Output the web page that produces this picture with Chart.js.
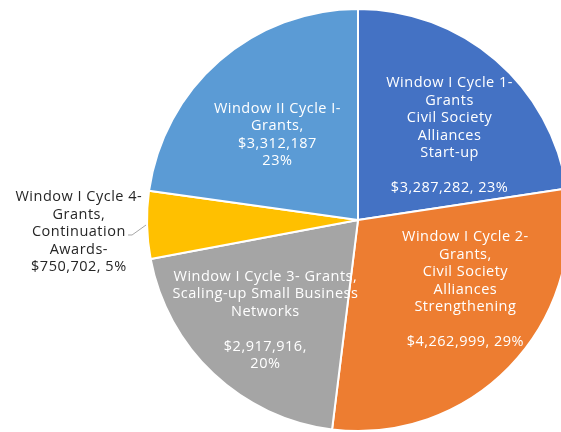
<!DOCTYPE html>
<html>
<head>
<meta charset="utf-8">
<script src="https://cdn.jsdelivr.net/npm/chart.js@4/dist/chart.umd.min.js"></script>
<style>
  html, body { margin: 0; padding: 0; background: #ffffff; overflow: hidden; width: 561px; height: 432px; }
  #wrap { position: absolute; left: 0; top: 0; }
</style>
</head>
<body>
<div id="wrap"><canvas id="pie" width="580" height="440"></canvas></div>
<script>
// Grant categories, one line per text row of each slice label
const categories = [
  ['Window I Cycle 1-', 'Grants', 'Civil Society', 'Alliances', 'Start-up'],
  ['Window I Cycle 2-', 'Grants,', 'Civil Society', 'Alliances', 'Strengthening'],
  ['Window I Cycle 3- Grants,', 'Scaling-up Small Business', 'Networks'],
  ['Window I Cycle 4-', 'Grants,', 'Continuation', 'Awards-'],
  ['Window II Cycle I-', 'Grants,']
];

// Awarded amounts in US dollars
const amounts = [3287282, 4262999, 2917916, 750702, 3312187];

// Slice colours
const sliceColors = ['#4472C4', '#ED7D31', '#A5A5A5', '#FFC000', '#5B9BD5'];

// How the amount / share rows are arranged under each name
const valueLayout = ['gapInline', 'gapInline', 'gapSplit', 'inline', 'split'];

// Label centre relative to the pie centre, in units of the radius
const labelAnchors = [
  [0.434, -0.401],
  [0.509, 0.330],
  [-0.439, 0.476],
  [-1.323, 0.057],
  [-0.382, -0.403]
];
const outsideLabel = [false, false, false, true, false];

const total = amounts.reduce((a, b) => a + b, 0);
const money = v => '$' + v.toLocaleString('en-US');
const pct = v => Math.round(v / total * 100) + '%';

function labelLines(i) {
  const v = amounts[i];
  const lines = categories[i].slice();
  switch (valueLayout[i]) {
    case 'gapInline': lines.push('', money(v) + ', ' + pct(v)); break;
    case 'gapSplit': lines.push('', money(v) + ',', pct(v)); break;
    case 'inline': lines.push(money(v) + ', ' + pct(v)); break;
    case 'split': lines.push(money(v), pct(v)); break;
  }
  return lines;
}

const FONT_SIZE = 14.5;
const LINE_H = 17.5;
const FONT_FAMILY = '"Open Sans", "Noto Sans", sans-serif';

const sliceLabels = {
  id: 'sliceLabels',
  afterDatasetsDraw(chart) {
    const ctx = chart.ctx;
    const meta = chart.getDatasetMeta(0);
    ctx.save();
    ctx.font = FONT_SIZE + 'px ' + FONT_FAMILY;
    if ('letterSpacing' in ctx) ctx.letterSpacing = '0.5px';
    ctx.textAlign = 'center';
    ctx.textBaseline = 'middle';
    meta.data.forEach((arc, i) => {
      const r = arc.outerRadius;
      const cx = arc.x, cy = arc.y;
      const lx = cx + labelAnchors[i][0] * r;
      const ly = cy + labelAnchors[i][1] * r;

      if (outsideLabel[i]) {
        // leader line from the rim of the slice to the label
        const mid = (arc.startAngle + arc.endAngle) / 2;
        const ex = cx + Math.cos(mid) * r;
        const ey = cy + Math.sin(mid) * r;
        ctx.strokeStyle = '#A6A6A6';
        ctx.lineWidth = 1;
        ctx.beginPath();
        ctx.moveTo(ex - 1, ey);
        ctx.lineTo(ex - 15, ey + 10);
        ctx.lineTo(ex - 19, ey + 10);
        ctx.stroke();
      }

      const lines = labelLines(i);
      ctx.fillStyle = outsideLabel[i] ? '#262626' : '#ffffff';
      const top = ly - (lines.length - 1) * LINE_H / 2;
      lines.forEach((t, k) => {
        if (t) ctx.fillText(t, lx, top + k * LINE_H);
      });
    });
    ctx.restore();
  }
};

new Chart(document.getElementById('pie'), {
  type: 'pie',
  data: {
    labels: categories.map(c => c.join(' ')),
    datasets: [{
      data: amounts,
      backgroundColor: sliceColors,
      borderColor: '#ffffff',
      borderWidth: 2
    }]
  },
  options: {
    responsive: false,
    animation: false,
    layout: { padding: { left: 146, top: 8, right: 10, bottom: 8 } },
    plugins: {
      legend: { display: false },
      tooltip: { enabled: false }
    }
  },
  plugins: [sliceLabels]
});
</script>
</body>
</html>
